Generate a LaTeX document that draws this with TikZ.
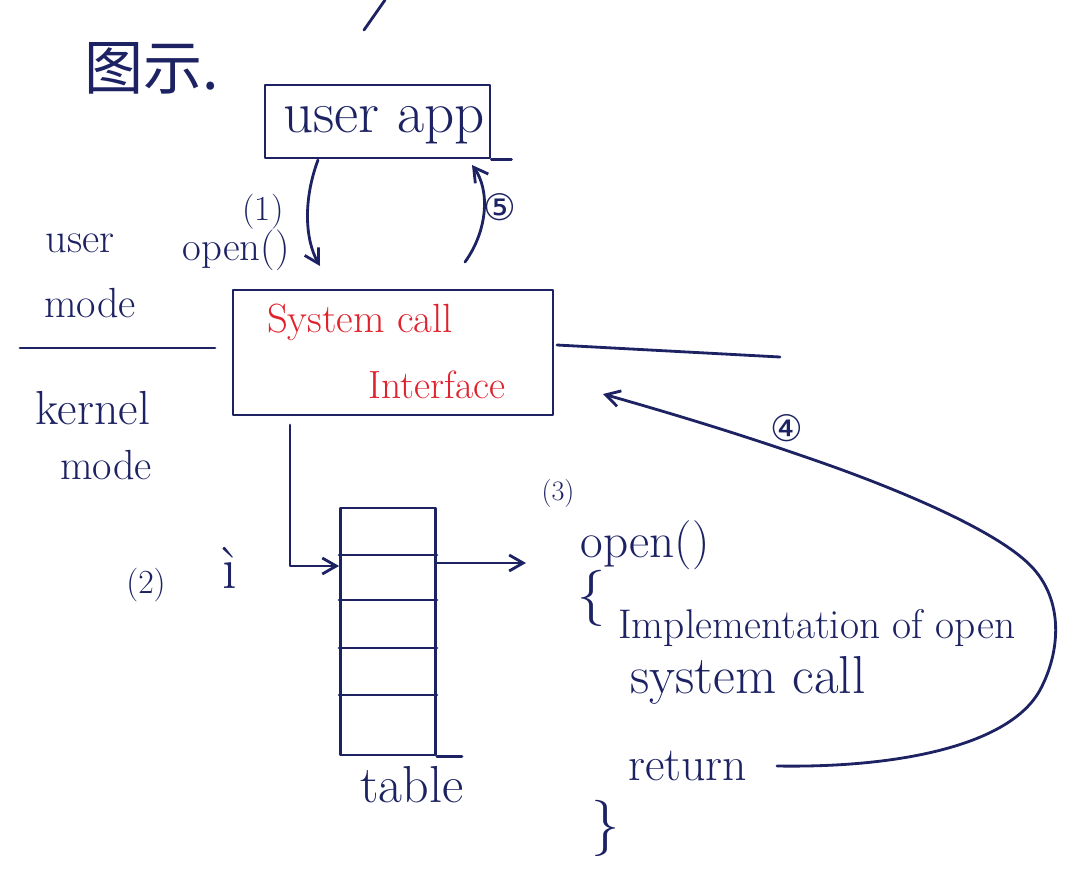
\documentclass[tikz,border=0pt]{standalone}
\usepackage{fontspec}
\newfontfamily\cjkfont{Noto Sans CJK SC}
\newfontfamily\circfont{DejaVu Sans}
\usetikzlibrary{arrows.meta}
\definecolor{ink}{HTML}{1C2262}
\definecolor{redink}{HTML}{E0222C}
\tikzset{pen/.style={draw=ink, line width=2pt, line cap=round, line join=round}}
\tikzset{hand/.style={pen, -{Straight Barb[length=3.5mm, width=4mm]}}}
\tikzset{words/.style={text=ink, inner sep=0pt, font=\fontsize{#1}{#1}\selectfont}}
\tikzset{words/.default=28}
\tikzset{redwords/.style={words=#1, text=redink}}
\tikzset{redwords/.default=28}
\tikzset{circled/.style={text=ink, inner sep=0pt, font=\circfont\fontsize{#1}{#1}\selectfont}}
\tikzset{circled/.default=26}

\begin{document}
\begin{tikzpicture}[x=0.025cm, y=-0.025cm]
            \useasboundingbox (0,0) rectangle (1080,884);
            \node[words, font=\cjkfont\fontsize{42}{42}\selectfont] (title) at (152,68) {图示.};
            \draw[pen] (364,30) -- (385,0);
            \node[pen, minimum width=5.625cm, minimum height=1.825cm] (app) at (377.5,121.5) {};
            \node[words=42] (applabel) at (384,125) {user app};
            \draw[pen] (app.south east) -- ++(20,0);
            \node[pen, minimum width=8cm, minimum height=3.125cm] (sci) at (393,352.5) {};
            \node[redwords=29] (scia) at (360,322) {System call};
            \node[redwords=28] (scib) at (437,385) {Interface};
            \coordinate (out1) at (318,160);
            \coordinate (in1) at (320,266);
            \draw[hand] (out1) .. controls (303,200) and (305,240) .. (in1);
            \node[words=25] (n1) at (263,212) {(1)};
            \node[words=29] (open1) at (236,250) {open()};
            \coordinate (out5) at (465,262);
            \coordinate (in5) at (472,165);
            \draw[hand] (out5) .. controls (488,230) and (490,190) .. (in5);
            \node[circled] (n5) at (500,207) {⑤};
            \node[words=30] (umode1) at (80,243) {user};
            \node[words=30] (umode2) at (90,303) {mode};
            \node[words=34] (kmode1) at (93,408) {kernel};
            \node[words=30] (kmode2) at (106,465) {mode};
            \draw[pen] (20,348) -- (215,348);
            \draw[pen] (557,345) -- (780,357);
            \node[pen, minimum width=2.375cm, minimum height=6.175cm] (tbl) at (388,631.5) {};
            \foreach \y in {555,600,648,695} {
                \coordinate (row) at (388,\y);
                \draw[pen] (row -| tbl.west) -- (row -| tbl.east);
            }
            \draw[pen] (tbl.south east) -- ++(25,0);
            \node[words=37] (tbllabel) at (412,785) {table};
            \coordinate (out2) at (290,425);
            \coordinate (bend2) at (290,566);
            \draw[hand] (out2) -- (bend2) -- (bend2 -| tbl.west);
            \node[words=24] (n2) at (146,585) {(2)};
            \node[words=42] (idx) at (230,568) {ì};
            \coordinate (code) at (526,563);
            \draw[hand] (code -| tbl.east) -- (code);
            \node[words=20] (n3) at (558,493) {(3)};
            \node[words=35] (open3) at (645,545) {open()};
            \node[words=40] (lbrace) at (592,598) {\{};
            \node[words=29.5, anchor=west] (impl) at (618,628) {Implementation of open};
            \node[words=38, anchor=west] (sysc) at (630,680) {system call};
            \node[words=34, anchor=west] (ret) at (628,766) {return};
            \node[words=40] (rbrace) at (606,828) {\}};
            \coordinate (out4) at (777,766);
            \coordinate (in4) at (603,394);
            \draw[hand] (out4) .. controls (900,768) and (1010,745) .. (1040,690) .. controls (1060,653) and (1065,600) .. (1030,565) .. controls (995,530) and (900,490) .. (820,462) .. controls (740,434) and (670,413) .. (in4);
            \node[circled] (n4) at (787,428) {④};
\end{tikzpicture}
\end{document}
